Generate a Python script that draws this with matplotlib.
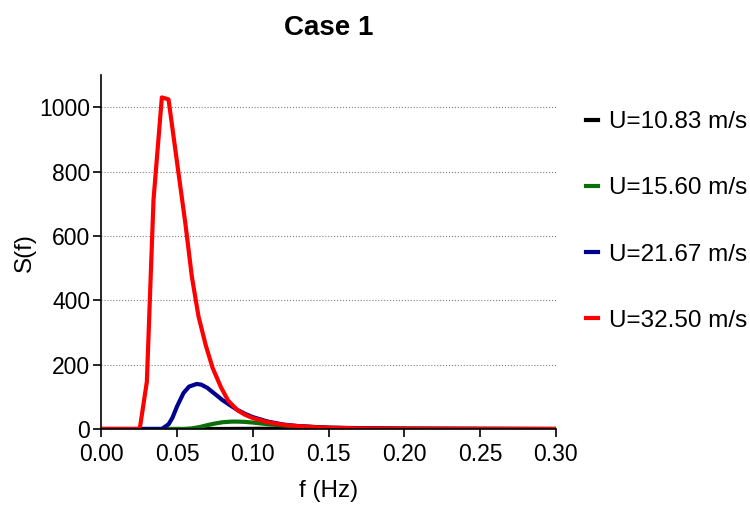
import numpy as np
import matplotlib
matplotlib.use('Agg')
import matplotlib.pyplot as plt

plt.rcParams['font.family'] = ['Liberation Sans', 'DejaVu Sans']

# spectra
f_red = [0.0, 0.0254, 0.0301, 0.0345, 0.0400, 0.0444, 0.0500, 0.0555, 0.0598,
         0.0642, 0.0690, 0.0735, 0.0790, 0.0838, 0.0900, 0.0950, 0.1000,
         0.1100, 0.1200, 0.1300, 0.1400, 0.1500, 0.1700, 0.2000, 0.2500, 0.3000]
s_red = [0, 0, 147, 713, 1031, 1025, 830, 640, 474,
         350, 260, 190, 130, 88, 58, 44, 34,
         21, 13, 9, 6, 4, 2, 1, 0.3, 0]

f_blue = [0.0, 0.040, 0.0445, 0.047, 0.050, 0.0543, 0.058, 0.063, 0.066, 0.070,
          0.075, 0.080, 0.085, 0.090, 0.095, 0.100, 0.110, 0.120, 0.130, 0.150,
          0.200, 0.300]
s_blue = [0, 0, 15, 35, 70, 112, 132, 140, 138, 128,
          109, 90, 74, 59, 47, 37, 23, 14, 9, 4,
          1, 0]

f_green = [0.0, 0.055, 0.060, 0.065, 0.070, 0.075, 0.080, 0.0862, 0.090, 0.095,
           0.100, 0.110, 0.120, 0.130, 0.140, 0.150, 0.170, 0.200, 0.250, 0.300]
s_green = [0, 0, 2, 6, 12, 17, 21, 23, 23, 22,
           20, 15, 11, 8, 6, 4, 2, 1, 0.3, 0]

f_black = [0.0, 0.080, 0.100, 0.120, 0.140, 0.170, 0.200, 0.300]
s_black = [0, 0, 0.5, 1.0, 0.8, 0.4, 0.1, 0]

labels = ['U=10.83 m/s', 'U=15.60 m/s', 'U=21.67 m/s', 'U=32.50 m/s']
colors = ['black', '#0a6e0a', '#000090', '#ff0000']

fig = plt.figure(figsize=(7.5, 5.05), dpi=100)
ax = fig.add_axes([0.135, 0.1505, 0.606, 0.7005])

lw = 3.0
ax.plot(f_black, s_black, color=colors[0], lw=lw, label=labels[0])
ax.plot(f_green, s_green, color=colors[1], lw=lw, label=labels[1])
ax.plot(f_blue, s_blue, color=colors[2], lw=lw, label=labels[2])
ax.plot(f_red, s_red, color=colors[3], lw=lw, label=labels[3])

ax.set_xlim(0, 0.30)
ax.set_ylim(0, 1100)
xt = np.arange(0, 0.301, 0.05)
ax.set_xticks(xt)
ax.set_xticklabels(['{:.2f}'.format(t) for t in xt])
ax.set_yticks(range(0, 1001, 200))
ax.yaxis.grid(True, linestyle=':', color='#808080', linewidth=0.8)
ax.set_axisbelow(True)

ax.spines['top'].set_visible(False)
ax.spines['right'].set_visible(False)
ax.spines['left'].set_linewidth(1.2)
ax.spines['bottom'].set_linewidth(1.2)
ax.tick_params(labelsize=16.5, length=6, width=1.2)
ax.tick_params(axis='x', pad=4)
ax.tick_params(axis='y', pad=2)

ax.set_xlabel('f (Hz)', fontsize=17.5, labelpad=10)
ax.set_ylabel('S(f)', fontsize=17.5, labelpad=2)
fig.text(0.438, 0.945, 'Case 1', ha='center', va='center',
         fontsize=20, fontweight='bold')

fig.legend(loc='upper left', bbox_to_anchor=(0.765, 0.804), frameon=False,
           fontsize=17.5, handlelength=0.5, handletextpad=0.45,
           labelspacing=1.82, borderpad=0)

fig.savefig('out.png', dpi=100)
